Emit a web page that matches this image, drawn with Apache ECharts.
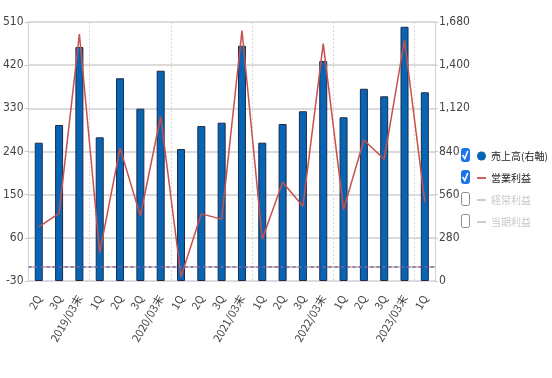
<!DOCTYPE html>
<html><head><meta charset="utf-8">
<script src="https://cdn.jsdelivr.net/npm/echarts@6/dist/echarts.min.js"></script>
<style>html,body{margin:0;padding:0;background:#fff}#c{width:552px;height:378px}</style>
</head><body><div id="c"></div>
<script>
const categories = ['2Q','3Q','2019/03末','1Q','2Q','3Q','2020/03末','1Q','2Q','3Q','2021/03末','1Q','2Q','3Q','2022/03末','1Q','2Q','3Q','2023/03末','1Q'];
const sales = [897,1012,1518,932,1315,1118,1364,856,1005,1027,1526,897,1018,1101,1427,1062,1247,1198,1649,1224];
const operatingProfit = [83,111,485,29,247,106,313,-21,110,99,492,57,176,126,465,119,264,224,472,135];
const ordinaryProfit = [];
const netProfit = [];
const leftTicks = [-30,60,150,240,330,420,510];
const rightTicks = [0,280,560,840,1120,1400,1680];
const seriesNames = ['売上高(右軸)','営業利益','経常利益','当期利益'];

const numFont = "'Liberation Sans Narrow','DejaVu Sans Condensed','Liberation Sans',sans-serif";
const jpFont = "'Noto Sans CJK JP',sans-serif";
const chart = echarts.init(document.getElementById('c'), null, {renderer:'canvas'});

const rowY = [155,177,199,221];
const graphics = [];
rowY.forEach((y,i)=>{
  const checked = i < 2;
  graphics.push({type:'rect', left:461, top:y-7, silent:true,
    shape:{width:8,height:13,r:2},
    style:{fill: checked ? '#1a73e8' : '#fff', stroke: checked ? '#1a73e8' : '#8a8a8a', lineWidth:1}});
  if (checked) {
    graphics.push({type:'polyline', silent:true,
      shape:{points:[[462.6,y],[464.8,y+3.5],[467.8,y-4]]},
      style:{stroke:'#fff', lineWidth:1.6, fill:null}});
  }
});

const lineIcon = 'path://M0,0M0,4h10v2h-10zM10,10';

chart.setOption({
  animation:false,
  textStyle:{fontFamily:numFont},
  grid:{left:22,right:117,top:22,bottom:97},
  legend:{
    orient:'vertical', left:472, top:146, itemWidth:9, itemHeight:10, itemGap:12,
    inactiveColor:'#c8c8c8',
    textStyle:{fontFamily:jpFont, fontSize:10, color:'#222'},
    data:[
      {name:seriesNames[0], icon:'circle', itemStyle:{borderWidth:0, color:'#0864b4'}},
      {name:seriesNames[1], icon:lineIcon, itemStyle:{borderWidth:0}},
      {name:seriesNames[2], icon:lineIcon, itemStyle:{borderWidth:0}},
      {name:seriesNames[3], icon:lineIcon, itemStyle:{borderWidth:0}}
    ],
    selected:{[seriesNames[2]]:false,[seriesNames[3]]:false}
  },
  graphic:graphics,
  xAxis:{
    type:'category', data:categories, boundaryGap:true,
    axisLine:{lineStyle:{color:'#c8c8c8',width:2}},
    axisTick:{show:false},
    axisLabel:{interval:0, rotate:60, fontSize:11, color:'#444', margin:15, fontFamily:jpFont},
    splitLine:{show:true, interval:(i)=> i%4===3, lineStyle:{color:'#d8d8d8', type:[2,2], width:1}}
  },
  yAxis:[
    {type:'value', min:leftTicks[0], max:leftTicks[leftTicks.length-1], interval:leftTicks[1]-leftTicks[0],
     axisLine:{show:true, lineStyle:{color:'#d0d0d0'}},
     axisTick:{show:true, length:4, lineStyle:{color:'#c8c8c8'}},
     axisLabel:{fontSize:12, color:'#444', margin:5},
     splitLine:{show:true, lineStyle:{color:'#cfcfcf', width:1.6}}},
    {type:'value', position:'right', min:rightTicks[0], max:rightTicks[rightTicks.length-1], interval:rightTicks[1]-rightTicks[0],
     axisLine:{show:true, lineStyle:{color:'#d0d0d0'}},
     axisTick:{show:true, length:3, lineStyle:{color:'#c8c8c8'}},
     axisLabel:{fontSize:12, color:'#444', margin:4, formatter:(v)=>v.toLocaleString('en-US')},
     splitLine:{show:false}}
  ],
  series:[
    {name:seriesNames[0], type:'bar', yAxisIndex:1, data:sales, barWidth:8,
     itemStyle:{color:'#0864b4', borderColor:'#1c2c48', borderWidth:1}},
    {name:seriesNames[1], type:'line', yAxisIndex:0, data:operatingProfit, symbol:'none',
     lineStyle:{color:'#c8504d', width:1.5}, itemStyle:{color:'#c8504d'},
     markLine:{silent:true, symbol:'none', label:{show:false},
       lineStyle:{color:'#8064a2', type:[3,3], width:1.5}, data:[{yAxis:0}]}},
    {name:seriesNames[2], type:'line', yAxisIndex:0, data:ordinaryProfit, symbol:'none',
     lineStyle:{color:'#9bbb59', width:1.5}, itemStyle:{color:'#9bbb59'}},
    {name:seriesNames[3], type:'line', yAxisIndex:0, data:netProfit, symbol:'none',
     lineStyle:{color:'#4bacc6', width:1.5}, itemStyle:{color:'#4bacc6'}}
  ]
});
</script></body></html>
